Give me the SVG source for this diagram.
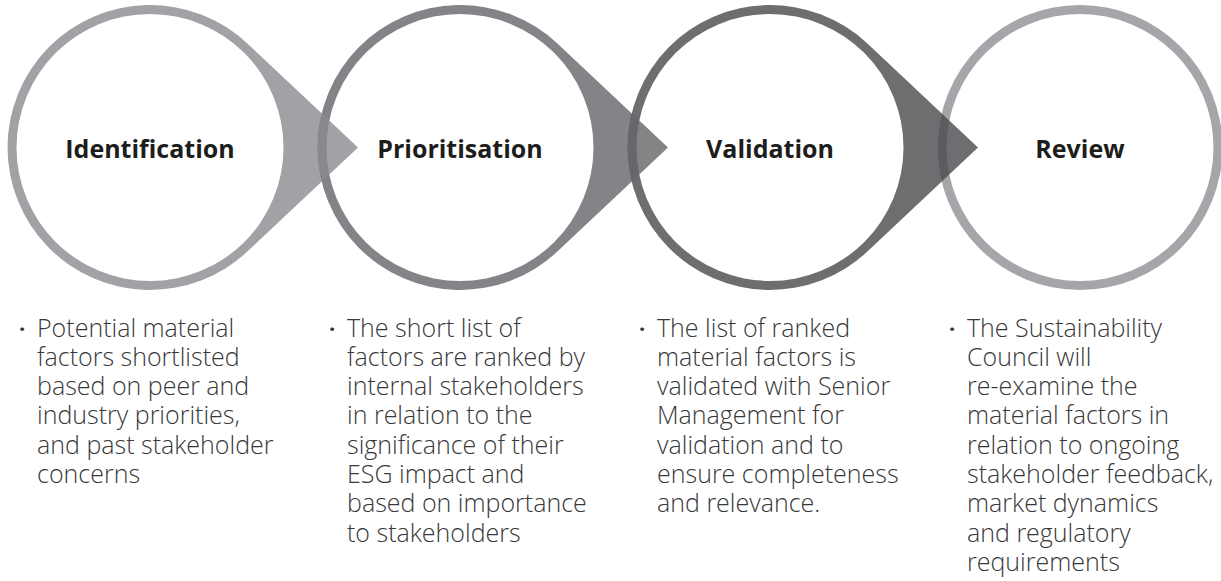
<svg xmlns="http://www.w3.org/2000/svg" width="1221" height="581" viewBox="0 0 1221 581">
<defs>
<clipPath id="c2"><circle cx="460" cy="147.5" r="142.5"/></clipPath>
<clipPath id="c3"><circle cx="770" cy="147.5" r="142.5"/></clipPath>
<clipPath id="c4"><circle cx="1080" cy="147.5" r="142.5"/></clipPath>
</defs>
<style>
.inner{fill:#ffffff}
.over{opacity:0.8}
.title{font-family:"Open Sans","Liberation Sans",sans-serif;font-weight:700;font-size:25px;fill:#1d1d1b;text-anchor:middle}
.body{font-family:"Open Sans","Liberation Sans",sans-serif;font-weight:300;font-size:25px;fill:#383838}
.dot{font-family:"Open Sans","Liberation Sans",sans-serif;font-weight:700;font-size:22px;fill:#383838}
</style>
<rect width="1221" height="581" fill="#ffffff"/>
<g id="node-identification">
<path fill="#a1a2a5" d="M247.63 43.67 L358 147.5 L247.63 251.33 A142.5 142.5 0 1 1 247.63 43.67 Z"/>
<circle class="inner" cx="150" cy="147.5" r="133.5"/>
</g>
<g id="node-prioritisation">
<path fill="#838487" d="M557.63 43.67 L668 147.5 L557.63 251.33 A142.5 142.5 0 1 1 557.63 43.67 Z"/>
<circle class="inner" cx="460" cy="147.5" r="133.5"/>
</g>
<g id="node-validation">
<path fill="#6e6e71" d="M867.63 43.67 L978 147.5 L867.63 251.33 A142.5 142.5 0 1 1 867.63 43.67 Z"/>
<circle class="inner" cx="770" cy="147.5" r="133.5"/>
</g>
<g id="node-review">
<circle cx="1080" cy="147.5" r="142.5" fill="#a5a6a9"/>
<circle class="inner" cx="1080" cy="147.5" r="133.5"/>
</g>
<g id="connectors">
<path class="over" fill="#8a8b8e" clip-path="url(#c2)" d="M247.63 43.67 L358 147.5 L247.63 251.33 Z"/>
<path class="over" fill="#646568" clip-path="url(#c3)" d="M557.63 43.67 L668 147.5 L557.63 251.33 Z"/>
<path class="over" fill="#4a4a4e" clip-path="url(#c4)" d="M867.63 43.67 L978 147.5 L867.63 251.33 Z"/>
</g>
<g id="labels">
<text class="title" x="150" y="158">Identification</text>
<text class="title" x="460" y="158">Prioritisation</text>
<text class="title" x="770" y="158">Validation</text>
<text class="title" x="1080" y="158">Review</text>
</g>
<g id="text-identification">
<text class="dot" x="19" y="336.5">·</text>
<text class="body" x="37" y="336.5">Potential material<tspan x="37" dy="29.3">factors shortlisted</tspan><tspan x="37" dy="29.3">based on peer and</tspan><tspan x="37" dy="29.3">industry priorities,</tspan><tspan x="37" dy="29.3">and past stakeholder</tspan><tspan x="37" dy="29.3">concerns</tspan></text>
</g>
<g id="text-prioritisation">
<text class="dot" x="329" y="336.5">·</text>
<text class="body" x="347" y="336.5">The short list of<tspan x="347" dy="29.3">factors are ranked by</tspan><tspan x="347" dy="29.3">internal stakeholders</tspan><tspan x="347" dy="29.3">in relation to the</tspan><tspan x="347" dy="29.3">significance of their</tspan><tspan x="347" dy="29.3">ESG impact and</tspan><tspan x="347" dy="29.3">based on importance</tspan><tspan x="347" dy="29.3">to stakeholders</tspan></text>
</g>
<g id="text-validation">
<text class="dot" x="639" y="336.5">·</text>
<text class="body" x="657" y="336.5">The list of ranked<tspan x="657" dy="29.3">material factors is</tspan><tspan x="657" dy="29.3">validated with Senior</tspan><tspan x="657" dy="29.3">Management for</tspan><tspan x="657" dy="29.3">validation and to</tspan><tspan x="657" dy="29.3">ensure completeness</tspan><tspan x="657" dy="29.3">and relevance.</tspan></text>
</g>
<g id="text-review">
<text class="dot" x="949" y="336.5">·</text>
<text class="body" x="967" y="336.5">The Sustainability<tspan x="967" dy="29.3">Council will</tspan><tspan x="967" dy="29.3">re-examine the</tspan><tspan x="967" dy="29.3">material factors in</tspan><tspan x="967" dy="29.3">relation to ongoing</tspan><tspan x="967" dy="29.3">stakeholder feedback,</tspan><tspan x="967" dy="29.3">market dynamics</tspan><tspan x="967" dy="29.3">and regulatory</tspan><tspan x="967" dy="29.3">requirements</tspan></text>
</g>
</svg>
